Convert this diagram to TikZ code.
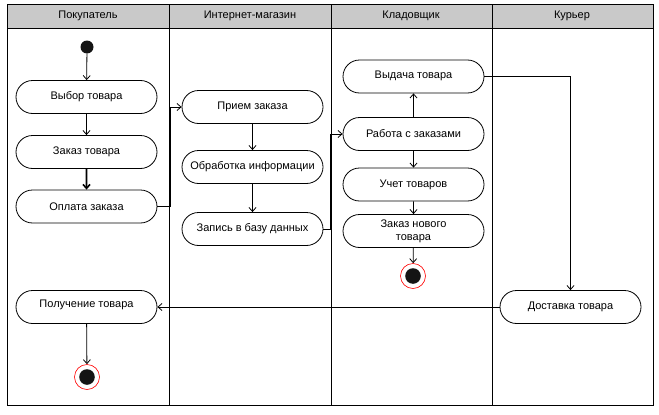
\documentclass[tikz,border=0pt]{standalone}
\usepackage{fontspec}
\setmainfont{Liberation Sans}
\usetikzlibrary{shapes.misc,arrows.meta}
\begin{document}
\begin{tikzpicture}[x=1pt,y=-1pt,
  act/.style={draw, rounded rectangle, line width=0.8pt, minimum width=143pt, minimum height=33pt, inner sep=1pt, align=center, font=\fontsize{11}{13}\selectfont},
  arr/.style={line width=0.8pt, -{Straight Barb[length=4pt,width=7pt]}},
  startdot/.style={circle, fill=black!92, minimum size=13pt, inner sep=0pt},
  enddot/.style={circle, draw=red, line width=0.6pt, minimum size=25pt, inner sep=0pt,
     path picture={\fill[black!92] (path picture bounding box.center) circle (7.8pt);}},
  lane/.style={line width=1pt},
  head/.style={font=\fontsize{11}{13}\selectfont}
]
\useasboundingbox (0,0) rectangle (659,415);
% frame
\fill[gray!42] (7,4) rectangle (653,28);
\draw[lane] (7,4) rectangle (653,405);
\draw[lane] (7,28) -- (653,28);
\draw[lane] (169,4) -- (169,405);
\draw[lane] (331,4) -- (331,405);
\draw[lane] (492,4) -- (492,405);
\node[head] (h1) at (88,16) {Покупатель};
\node[head] (h2) at (250,16) {Интернет-магазин};
\node[head] (h3) at (411,16) {Кладовщик};
\node[head] (h4) at (572,16) {Курьер};
% nodes
\node[startdot] (start) at (87,47) {};
\node[act] (vyb) at (86.5,97) {Выбор товара};
\node[act] (zak) at (86.5,152) {Заказ товара};
\node[act] (opl) at (86.5,206.5) {Оплата заказа};
\node[act] (pol) at (86.5,307) {\raisebox{7pt}{Получение товара}};
\node[enddot] (end2) at (87,377) {};
\node[act] (pri) at (252.5,107) {Прием заказа};
\node[act] (obr) at (252.5,167) {Обработка информации};
\node[act] (zap) at (252.5,229) {Запись в базу данных};
\node[act] (vyd) at (413.5,76.5) {\raisebox{4pt}{Выдача товара}};
\node[act] (rab) at (413.5,134) {Работа с заказами};
\node[act] (uch) at (413.5,184.5) {Учет товаров};
\node[act] (zn) at (413.5,231) {Заказ нового\\товара};
\node[enddot] (end1) at (413,276) {};
\node[act] (dost) at (570.5,307) {\raisebox{2pt}{Доставка товара}};
% connectors
\draw[arr] (start) -- (vyb);
\draw[arr] (vyb) -- (zak);
\draw[arr, line width=1.6pt] (zak) -- (opl);
\draw[arr] (opl.east) -- ++(13,0) |- (pri.west);
\draw[arr] (pri) -- (obr);
\draw[arr] (obr) -- (zap);
\draw[arr] (zap.east) -- ++(7,0) |- (rab.west);
\draw[arr] (rab) -- (vyd);
\draw[arr] (rab) -- (uch);
\draw[arr] (uch) -- (zn);
\draw[arr] (zn) -- (end1);
\draw[arr] (vyd.east) -| (dost.north);
\draw[arr] (dost.west) -- (pol.east);
\draw[arr] (pol) -- (end2);
\end{tikzpicture}
\end{document}
